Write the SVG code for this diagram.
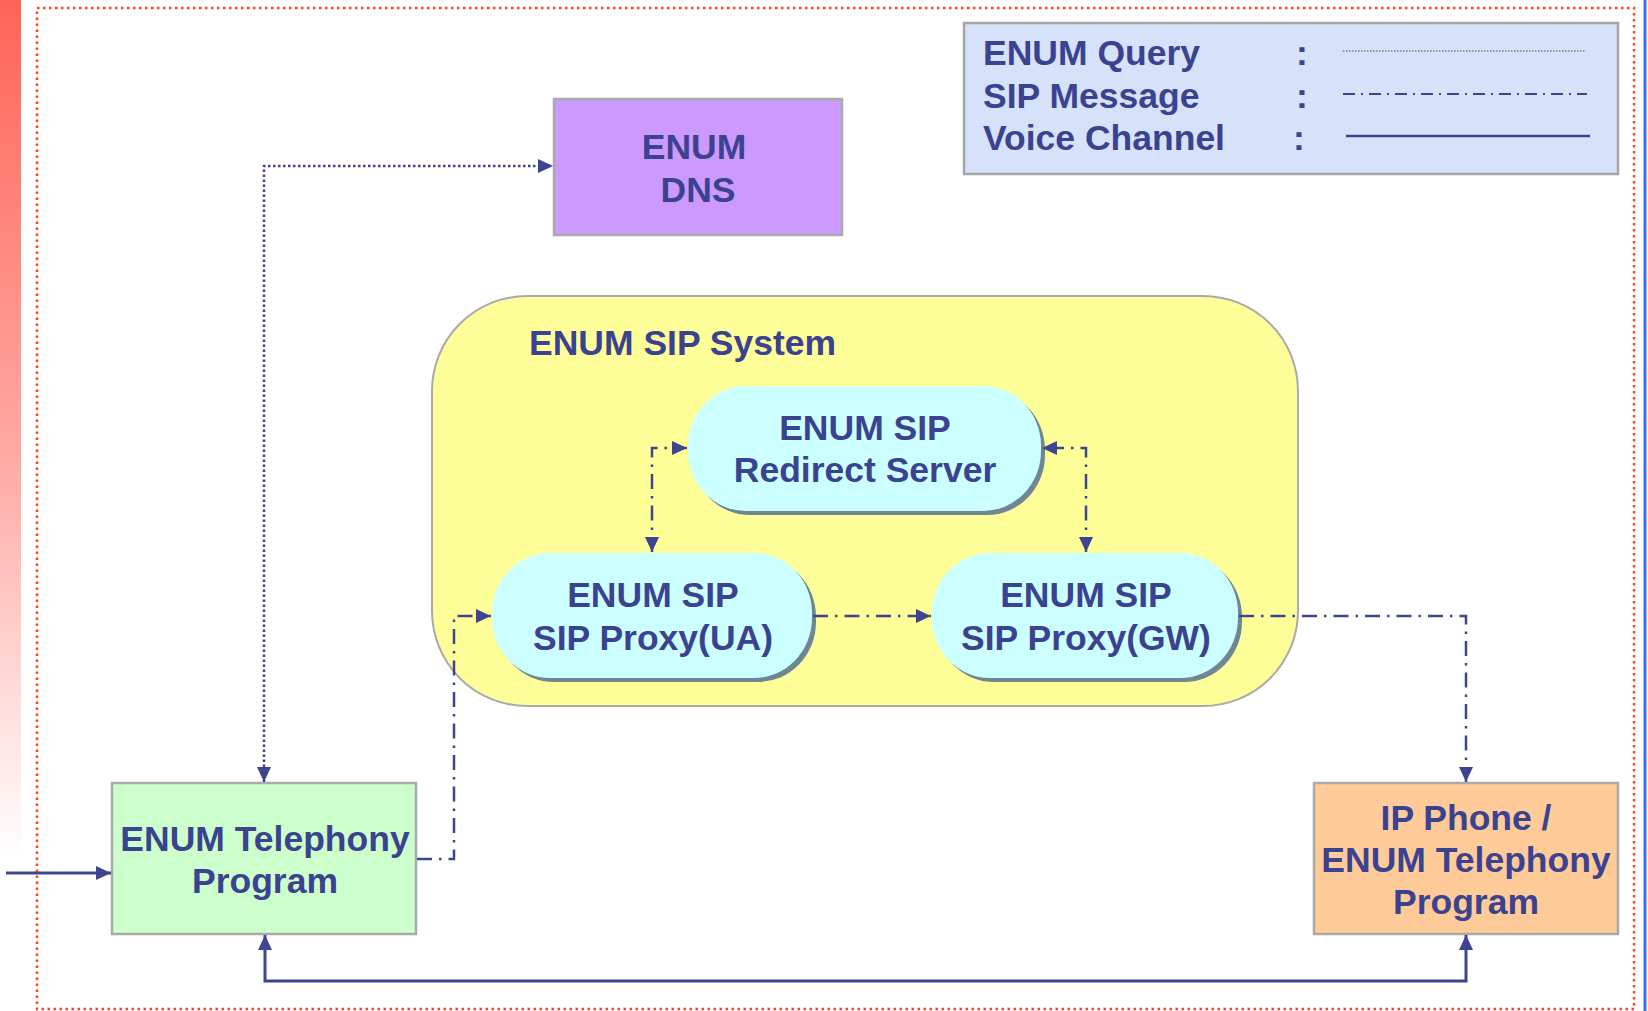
<svg xmlns="http://www.w3.org/2000/svg" width="1648" height="1011" viewBox="0 0 1648 1011">
<defs>
<linearGradient id="bar" x1="0" y1="0" x2="0" y2="1">
<stop offset="0" stop-color="#FF6457"/>
<stop offset="0.45" stop-color="#FFA9A3"/>
<stop offset="0.85" stop-color="#FFFFFF"/>
</linearGradient>
<marker id="arr" viewBox="0 0 15 14" refX="15" refY="7" markerWidth="15" markerHeight="14" markerUnits="userSpaceOnUse" orient="auto-start-reverse">
<path d="M0,0 L15,7 L0,14 Z" fill="#3D4490"/>
</marker>
<style>
.lbl{font-family:"Liberation Sans",Arial,sans-serif;font-weight:bold;font-size:35.5px;fill:#3B4290;text-anchor:middle}
.leg{font-family:"Liberation Sans",Arial,sans-serif;font-weight:bold;font-size:35.5px;fill:#3B4290}
.box{stroke:#AAAAAA;stroke-width:2.5}
.cap{fill:#CCFFFF}
.shadow{fill:#6F8794}
.dot{fill:none;stroke:#3D4490;stroke-width:2.5;stroke-dasharray:2.5 2.5}
.dd{fill:none;stroke:#3D4490;stroke-width:2.5;stroke-dasharray:15 7 2.5 7}
.solid{fill:none;stroke:#3D4490;stroke-width:3}
</style>
</defs>
<rect x="0" y="0" width="1648" height="1011" fill="#FFFFFF"/>
<rect x="0" y="0" width="21" height="1011" fill="url(#bar)"/>
<rect x="37" y="8" width="1597" height="1001" fill="none" stroke="#FF4422" stroke-width="2.5" stroke-dasharray="2.5 3.5"/>
<line x1="1645" y1="0" x2="1645" y2="1011" stroke="#3F6FE8" stroke-width="3"/>

<g id="legend">
<rect x="964" y="23" width="654" height="151" fill="#D6E1FA" stroke="#A6A6A6" stroke-width="2.5"/>
<text class="leg" x="983" y="65">ENUM Query</text>
<text class="leg" x="983" y="108">SIP Message</text>
<text class="leg" x="983" y="150">Voice Channel</text>
<text class="leg" x="1296" y="65">:</text>
<text class="leg" x="1296" y="108">:</text>
<text class="leg" x="1293" y="150">:</text>
<line x1="1343" y1="51" x2="1585" y2="51" stroke="#3D4490" stroke-width="1.2" stroke-dasharray="1.5 1.5"/>
<line x1="1343" y1="94" x2="1587" y2="94" stroke="#3D4490" stroke-width="2" stroke-dasharray="12 6 2 6"/>
<line x1="1346" y1="136" x2="1590" y2="136" stroke="#3D4490" stroke-width="2.5"/>
</g>

<g id="enum-dns">
<rect class="box" x="554" y="99" width="288" height="136" fill="#CC99FF"/>
<text class="lbl" x="694" y="159">ENUM</text>
<text class="lbl" x="698" y="202">DNS</text>
</g>

<g id="enum-sip-system">
<rect x="432" y="296" width="866" height="410" rx="95" ry="95" fill="#FFFF99" stroke="#AAAAAA" stroke-width="2"/>
<text class="leg" x="529" y="355">ENUM SIP System</text>
</g>

<g id="redirect-server">
<rect class="shadow" x="692" y="390" width="353" height="125" rx="58" ry="60"/>
<rect class="cap" x="688" y="386" width="353" height="125" rx="58" ry="60"/>
<text class="lbl" x="865" y="440">ENUM SIP</text>
<text class="lbl" x="865" y="482">Redirect Server</text>
</g>

<g id="sip-proxy-ua">
<rect class="shadow" x="496" y="557" width="320" height="125" rx="58" ry="60"/>
<rect class="cap" x="492" y="553" width="320" height="125" rx="58" ry="60"/>
<text class="lbl" x="653" y="607">ENUM SIP</text>
<text class="lbl" x="653" y="650">SIP Proxy(UA)</text>
</g>

<g id="sip-proxy-gw">
<rect class="shadow" x="936" y="557" width="306" height="125" rx="58" ry="60"/>
<rect class="cap" x="932" y="553" width="306" height="125" rx="58" ry="60"/>
<text class="lbl" x="1086" y="607">ENUM SIP</text>
<text class="lbl" x="1086" y="650">SIP Proxy(GW)</text>
</g>

<g id="enum-telephony">
<rect class="box" x="112" y="783" width="304" height="151" fill="#CCFFCC"/>
<text class="lbl" x="265" y="851">ENUM Telephony</text>
<text class="lbl" x="265" y="893">Program</text>
</g>

<g id="ip-phone">
<rect class="box" x="1314" y="783" width="304" height="151" fill="#FFCC99"/>
<text class="lbl" x="1466" y="830">IP Phone /</text>
<text class="lbl" x="1466" y="872">ENUM Telephony</text>
<text class="lbl" x="1466" y="914">Program</text>
</g>

<g id="connectors">
<path class="dot" d="M264,782 L264,166 L553,166" marker-start="url(#arr)" marker-end="url(#arr)"/>
<path class="dd" d="M417,859 L454,859 L454,616 L491,616" marker-end="url(#arr)"/>
<path class="dd" d="M813,616 L931,616" marker-end="url(#arr)"/>
<path class="dd" d="M1239,616 L1466,616 L1466,782" marker-end="url(#arr)"/>
<path class="dd" d="M652,552 L652,448 L687,448" marker-start="url(#arr)" marker-end="url(#arr)"/>
<path class="dd" d="M1086,552 L1086,448 L1042,448" marker-start="url(#arr)" marker-end="url(#arr)"/>
<path class="solid" d="M265,935 L265,981 L1466,981 L1466,935" marker-start="url(#arr)" marker-end="url(#arr)"/>
<path class="solid" d="M6,873 L111,873" marker-end="url(#arr)"/>
</g>
</svg>
